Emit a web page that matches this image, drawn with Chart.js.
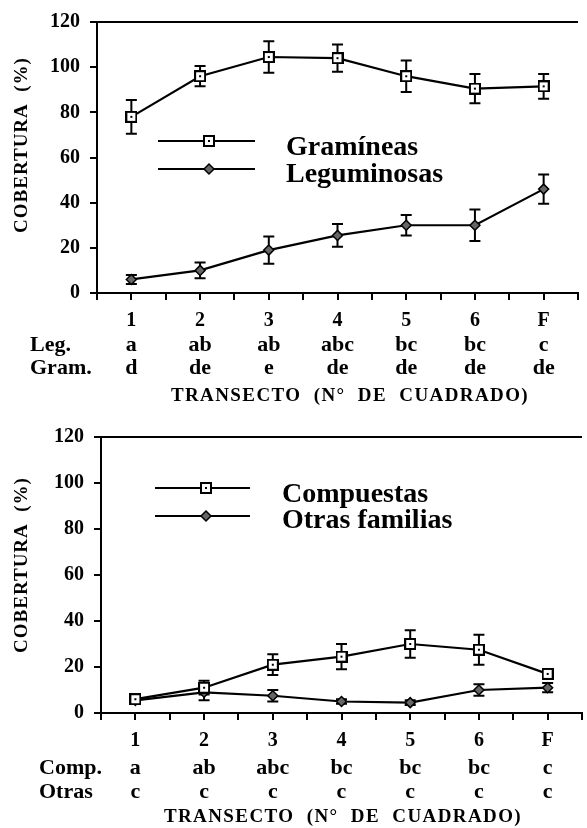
<!DOCTYPE html>
<html>
<head>
<meta charset="utf-8">
<script src="https://cdn.jsdelivr.net/npm/chart.js@4/dist/chart.umd.min.js"></script>
<style>
html, body { margin: 0; padding: 0; background: #fff; }
#wrap { position: relative; width: 587px; height: 828px; overflow: hidden; }
.box { position: absolute; left: 0; height: 414px; }
</style>
</head>
<body>
<div id="wrap">
  <div class="box" style="top:0; width:587px;"><canvas id="graph_1"></canvas></div>
  <div class="box" style="top:414px; width:591px;"><canvas id="graph_2"></canvas></div>
</div>
<script>
// transectos (n de cuadrado)
var transectos = ['1', '2', '3', '4', '5', '6', 'F'];

// grafico 1
var gramineas      = [78, 96, 104.5, 104, 96, 90.5, 91.5];
var gramineasErr   = [7.5, 4.5, 7, 6, 7, 6.5, 5.5];
var leguminosas    = [6, 10, 19, 25.5, 30, 30, 46];
var leguminosasErr = [2, 3.5, 6, 5, 4.5, 7, 6.5];
var letrasLeg  = ['a', 'ab', 'ab', 'abc', 'bc', 'bc', 'c'];
var letrasGram = ['d', 'de', 'e', 'de', 'de', 'de', 'de'];

// grafico 2
var compuestas    = [6, 11, 21, 24.5, 30, 27.5, 17];
var compuestasErr = [1.5, 3, 4.5, 5.5, 6, 6.5, 2];
var otras         = [5.5, 9, 7.5, 5, 4.5, 10, 11];
var otrasErr      = [1.5, 3.5, 2.5, 1, 1, 2.5, 2];
var letrasComp  = ['a', 'ab', 'abc', 'bc', 'bc', 'bc', 'c'];
var letrasOtras = ['c', 'c', 'c', 'c', 'c', 'c', 'c'];

var FUENTE = "'Liberation Serif', 'Times New Roman', serif";

function puntos(valores) {
  return valores.map(function (v, i) { return { x: i + 1, y: v }; });
}

// cuadrado abierto con punto central
function marcaCuadro() {
  var c = document.createElement('canvas');
  c.width = 12; c.height = 12;
  var g = c.getContext('2d');
  g.fillStyle = '#fff'; g.fillRect(0, 0, 12, 12);
  g.strokeStyle = '#000'; g.lineWidth = 2; g.strokeRect(1, 1, 10, 10);
  g.fillStyle = '#000'; g.fillRect(5, 5, 2, 2);
  return c;
}
var cuadro = marcaCuadro();

var barrasError = {
  id: 'barrasError',
  beforeDatasetsDraw: function (chart) {
    var ctx = chart.ctx, ys = chart.scales.y;
    ctx.save();
    ctx.strokeStyle = '#000';
    ctx.lineWidth = 2;
    chart.data.datasets.forEach(function (ds, i) {
      var meta = chart.getDatasetMeta(i);
      meta.data.forEach(function (pt, j) {
        var v = ds.data[j].y, e = ds.errores[j];
        var y1 = ys.getPixelForValue(v + e), y2 = ys.getPixelForValue(v - e);
        ctx.beginPath();
        ctx.moveTo(pt.x, y1); ctx.lineTo(pt.x, y2);
        ctx.moveTo(pt.x - 5.5, y1); ctx.lineTo(pt.x + 5.5, y1);
        ctx.moveTo(pt.x - 5.5, y2); ctx.lineTo(pt.x + 5.5, y2);
        ctx.stroke();
      });
    });
    ctx.restore();
  }
};

function extras(cfg) {
  return {
    id: 'extras',
    afterDraw: function (chart) {
      var ctx = chart.ctx, a = chart.chartArea, xs = chart.scales.x;
      ctx.save();
      ctx.strokeStyle = '#000';
      ctx.fillStyle = '#000';
      // marco superior
      ctx.lineWidth = 2;
      ctx.beginPath(); ctx.moveTo(a.left, a.top); ctx.lineTo(a.right, a.top); ctx.stroke();

      // filas de letras
      ctx.font = 'bold 22px ' + FUENTE;
      ctx.textBaseline = 'alphabetic';
      cfg.filas.forEach(function (f) {
        ctx.textAlign = 'left';
        ctx.fillText(f.nombre, f.x, a.bottom + f.dy);
        ctx.textAlign = 'center';
        f.letras.forEach(function (l, i) {
          ctx.fillText(l, xs.getPixelForValue(i + 1), a.bottom + f.dy);
        });
      });

      // titulo eje x
      ctx.font = 'bold 19px ' + FUENTE;
      ctx.letterSpacing = '1.4px';
      ctx.textAlign = 'center';
      ctx.textBaseline = 'middle';
      ctx.fillText('TRANSECTO  (N\u00B0  DE  CUADRADO)', cfg.tituloX, cfg.tituloY);

      // titulo eje y
      ctx.letterSpacing = '1px';
      ctx.save();
      ctx.translate(22, cfg.yTituloY);
      ctx.rotate(-Math.PI / 2);
      ctx.fillText('COBERTURA  (%)', 0, 0);
      ctx.restore();
      ctx.letterSpacing = '0px';

      // leyenda
      ctx.font = 'bold 28px ' + FUENTE;
      ctx.textAlign = 'left';
      ctx.textBaseline = 'alphabetic';
      cfg.leyenda.forEach(function (l, i) {
        ctx.lineWidth = 1.8;
        ctx.beginPath(); ctx.moveTo(l.x1, l.y); ctx.lineTo(l.x2, l.y); ctx.stroke();
        if (i === 0) {
          ctx.drawImage(cuadro, l.xm - 6, l.y - 6);
        } else {
          ctx.fillStyle = '#666';
          ctx.lineWidth = 1.5;
          Chart.helpers.drawPoint(ctx, { pointStyle: 'rectRot', radius: 5, borderWidth: 1.5 }, l.xm, l.y);
          ctx.fillStyle = '#000';
        }
        ctx.fillText(l.texto, l.xt, l.y + l.dt);
      });
      ctx.restore();
    }
  };
}

function opciones(cfg) {
  return {
    responsive: true,
    maintainAspectRatio: false,
    animation: false,
    layout: { padding: { left: 0, right: 0, top: cfg.top, bottom: 0 } },
    plugins: { legend: { display: false }, tooltip: { enabled: false } },
    scales: {
      x: {
        type: 'linear', min: 0.5, max: 7.5,
        afterFit: function (s) { s.height = cfg.altoX; },
        ticks: {
          stepSize: 0.5, autoSkip: false, maxRotation: 0, padding: 9,
          color: '#000', font: { family: FUENTE, size: 20, weight: 'bold' },
          callback: function (v) { return Number.isInteger(v) ? transectos[v - 1] : ''; }
        },
        grid: { drawOnChartArea: false, drawTicks: true, tickLength: 7, color: '#000', lineWidth: 2 },
        border: { color: '#000', width: 2 }
      },
      y: {
        min: 0, max: 120,
        afterFit: function (s) { s.width = cfg.left; },
        ticks: {
          stepSize: 10, padding: 10,
          color: '#000', font: { family: FUENTE, size: 20, weight: 'bold' },
          callback: function (v) { return v % 20 === 0 ? v : ''; }
        },
        grid: { drawOnChartArea: false, drawTicks: true, tickLength: 7, color: '#000', lineWidth: 2 },
        border: { color: '#000', width: 2 }
      }
    }
  };
}

function serie(nombre, valores, errores, cuad) {
  return {
    label: nombre,
    data: puntos(valores),
    errores: errores,
    borderColor: '#000',
    borderWidth: 2.2,
    tension: 0,
    pointStyle: cuad ? cuadro : 'rectRot',
    pointRadius: cuad ? 6 : 5,
    pointBackgroundColor: cuad ? '#fff' : '#666',
    pointBorderColor: '#000',
    pointBorderWidth: 1.5,
    order: cuad ? 0 : 1
  };
}

var cfg1 = {
  top: 18, left: 97, altoX: 121,
  tituloX: 350, tituloY: 396, yTituloY: 145,
  filas: [
    { nombre: 'Leg.', x: 30, dy: 58, letras: letrasLeg },
    { nombre: 'Gram.', x: 30, dy: 81, letras: letrasGram }
  ],
  leyenda: [
    { texto: 'Gram\u00EDneas', x1: 158, x2: 255, xm: 209, y: 141, xt: 286, dt: 14 },
    { texto: 'Leguminosas', x1: 158, x2: 255, xm: 209, y: 169, xt: 286, dt: 13 }
  ]
};

var cfg2 = {
  top: 23, left: 101, altoX: 115,
  tituloX: 343, tituloY: 403, yTituloY: 151,
  filas: [
    { nombre: 'Comp.', x: 39, dy: 61, letras: letrasComp },
    { nombre: 'Otras', x: 39, dy: 85, letras: letrasOtras }
  ],
  leyenda: [
    { texto: 'Compuestas', x1: 155, x2: 250, xm: 206, y: 74, xt: 282, dt: 14 },
    { texto: 'Otras familias', x1: 155, x2: 250, xm: 206, y: 102, xt: 282, dt: 12 }
  ]
};

new Chart(document.getElementById('graph_1'), {
  type: 'line',
  data: { datasets: [serie('Gram\u00EDneas', gramineas, gramineasErr, true), serie('Leguminosas', leguminosas, leguminosasErr, false)] },
  options: opciones(cfg1),
  plugins: [barrasError, extras(cfg1)]
});

new Chart(document.getElementById('graph_2'), {
  type: 'line',
  data: { datasets: [serie('Compuestas', compuestas, compuestasErr, true), serie('Otras familias', otras, otrasErr, false)] },
  options: opciones(cfg2),
  plugins: [barrasError, extras(cfg2)]
});
</script>
</body>
</html>
